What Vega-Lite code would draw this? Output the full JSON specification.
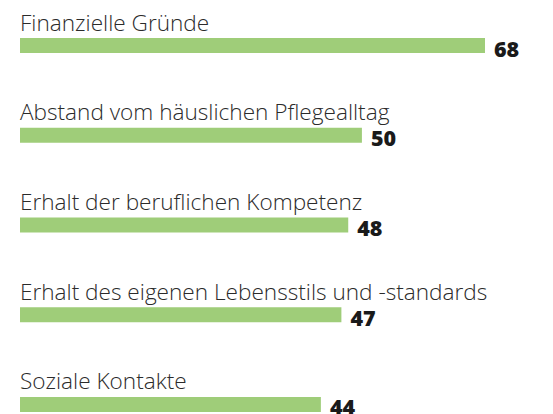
{
  "$schema": "https://vega.github.io/schema/vega-lite/v6.json",
  "width": 465,
  "height": 378,
  "autosize": {"type": "none"},
  "padding": {"left": 20, "top": 36, "right": 68, "bottom": 0},
  "background": "white",
  "config": {"view": {"stroke": null}},
  "data": {
    "values": [
      {"label": "Finanzielle Gründe", "value": 68},
      {"label": "Abstand vom häuslichen Pflegealltag", "value": 50},
      {"label": "Erhalt der beruflichen Kompetenz", "value": 48},
      {"label": "Erhalt des eigenen Lebensstils und -standards", "value": 47},
      {"label": "Soziale Kontakte", "value": 44}
    ]
  },
  "encoding": {
    "y": {
      "field": "label",
      "type": "nominal",
      "sort": null,
      "scale": {"type": "point", "padding": 0.106},
      "axis": null
    }
  },
  "layer": [
    {
      "mark": {"type": "bar", "size": 15, "color": "#9fcd79"},
      "encoding": {
        "x": {"field": "value", "type": "quantitative", "scale": {"domain": [0, 68], "nice": false, "zero": true}, "axis": null}
      }
    },
    {
      "mark": {"type": "text", "align": "left", "baseline": "alphabetic", "dy": -15, "font": "Open Sans", "fontWeight": 300, "fontSize": 22.6, "color": "#2b2b2b"},
      "encoding": {
        "x": {"datum": 0, "type": "quantitative"},
        "text": {"field": "label"}
      }
    },
    {
      "mark": {"type": "text", "align": "left", "baseline": "alphabetic", "dx": 9, "dy": 11, "font": "Open Sans", "fontWeight": 800, "fontSize": 21.5, "color": "#1a1a1a"},
      "encoding": {
        "x": {"field": "value", "type": "quantitative"},
        "text": {"field": "value"}
      }
    }
  ]
}
